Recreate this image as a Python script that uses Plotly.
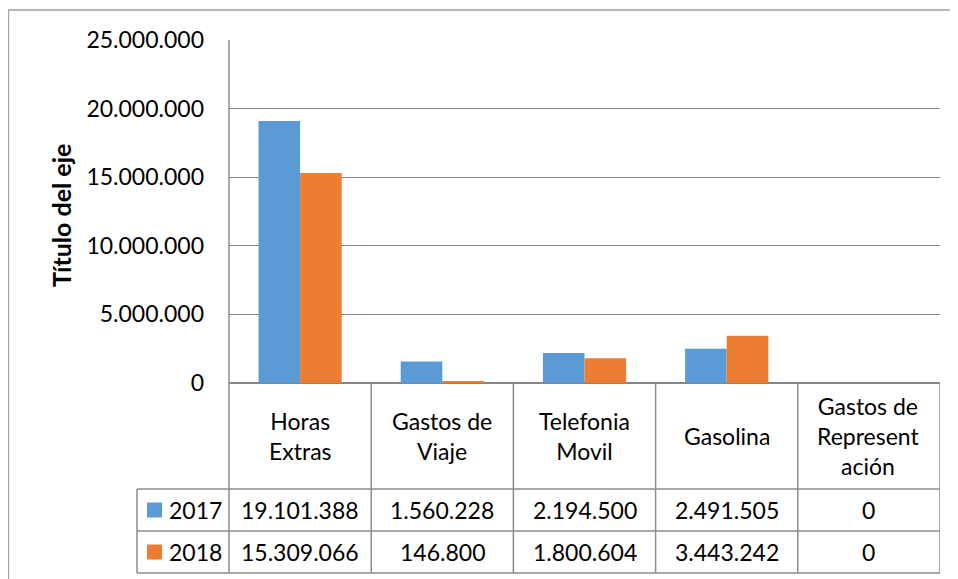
import plotly.graph_objects as go

# ---- data ----
categories = ["Horas Extras", "Gastos de Viaje", "Telefonia Movil", "Gasolina", "Gastos de Representación"]
category_labels = ["Horas<br>Extras", "Gastos de<br>Viaje", "Telefonia<br>Movil", "Gasolina", "Gastos de<br>Represent<br>ación"]
series_names = ["2017", "2018"]
values_2017 = [19101388, 1560228, 2194500, 2491505, 0]
values_2018 = [15309066, 146800, 1800604, 3443242, 0]
y_ticks = [0, 5000000, 10000000, 15000000, 20000000, 25000000]

colors = ["#5B9BD5", "#ED7D31"]
OFF = 8  # page body margin
W, H = 958 - OFF, 579 - OFF
# layout in page pixels
PL, PR, PT, PB = 229, 940, 40, 383
ROW_CAT_BOTTOM = 489
ROW1_BOTTOM = 531
ROW2_BOTTOM = 573
LEG_LEFT = 137
FONT = "Lato, 'Open Sans', sans-serif"
FS = 23
LINE_C = "#8c8c8c"


def fx(px):
    return (px - PL) / (PR - PL)


def fy(py):
    return (PB - py) / (PB - PT)


def fmt(v):
    return f"{v:,}".replace(",", ".")


fig = go.Figure()
for name, vals, col in zip(series_names, [values_2017, values_2018], colors):
    fig.add_trace(go.Bar(x=categories, y=vals, name=name, marker=dict(color=col, line=dict(width=0))))

shapes = []
# outer chart border
shapes.append(dict(type="line", xref="paper", yref="paper", x0=fx(8.5), x1=fx(8.5), y0=fy(600), y1=fy(10),
                   line=dict(color="#a0a0a0", width=1.3)))
shapes.append(dict(type="line", xref="paper", yref="paper", x0=fx(8.5), x1=fx(980), y0=fy(10), y1=fy(10),
                   line=dict(color="#a0a0a0", width=1.3)))
# plot left border (extends through table)
shapes.append(dict(type="line", xref="paper", yref="paper", x0=0, x1=0, y0=fy(PT), y1=fy(ROW2_BOTTOM),
                   line=dict(color=LINE_C, width=1.5)))
# table column separators
n = len(categories)
for i in range(1, n + 1):
    shapes.append(dict(type="line", xref="x", yref="paper", x0=i - 0.5, x1=i - 0.5, y0=fy(PB), y1=fy(ROW2_BOTTOM),
                       line=dict(color=LINE_C, width=1.5)))
# table row lines
for py in [ROW_CAT_BOTTOM, ROW1_BOTTOM, ROW2_BOTTOM]:
    shapes.append(dict(type="line", xref="paper", yref="paper", x0=fx(LEG_LEFT), x1=1, y0=fy(py), y1=fy(py),
                       line=dict(color=LINE_C, width=1.5)))
shapes.append(dict(type="line", xref="paper", yref="paper", x0=fx(LEG_LEFT), x1=fx(LEG_LEFT),
                   y0=fy(ROW_CAT_BOTTOM), y1=fy(ROW2_BOTTOM), line=dict(color=LINE_C, width=1.5)))

annotations = []
# category labels
for i, lab in enumerate(category_labels):
    annotations.append(dict(x=i, y=fy((PB + ROW_CAT_BOTTOM) / 2), xref="x", yref="paper", text=lab,
                            showarrow=False, font=dict(family=FONT, size=FS, color="#000"),
                            xanchor="center", yanchor="middle"))
# data rows
rows = [(ROW_CAT_BOTTOM, ROW1_BOTTOM), (ROW1_BOTTOM, ROW2_BOTTOM)]
for (top, bot), name, vals, col in zip(rows, series_names, [values_2017, values_2018], colors):
    cy = (top + bot) / 2
    for i, v in enumerate(vals):
        annotations.append(dict(x=i, y=fy(cy), xref="x", yref="paper", text=fmt(v), showarrow=False,
                                font=dict(family=FONT, size=FS, color="#000"), xanchor="center", yanchor="middle"))
    shapes.append(dict(type="rect", xref="paper", yref="paper", x0=fx(147), x1=fx(162), y0=fy(cy - 7.5),
                       y1=fy(cy + 7.5), fillcolor=col, line=dict(width=0)))
    annotations.append(dict(x=fx(167), y=fy(cy), xref="paper", yref="paper", text=name, showarrow=False,
                            font=dict(family=FONT, size=FS, color="#000"), xanchor="left", yanchor="middle"))
# axis title
annotations.append(dict(x=fx(61), y=fy(216), xref="paper", yref="paper", text="<b>Título del eje</b>",
                        showarrow=False, textangle=-90, font=dict(family=FONT, size=25, color="#000"),
                        xanchor="center", yanchor="middle"))

fig.update_layout(
    width=W, height=H,
    margin=dict(l=PL - OFF, r=(958 - PR), t=PT - OFF, b=(579 - PB), pad=0),
    paper_bgcolor="white", plot_bgcolor="white",
    separators=",.",
    barmode="group", bargap=0.415, bargroupgap=0,
    showlegend=False,
    shapes=shapes, annotations=annotations,
    font=dict(family=FONT, size=FS, color="#000"),
)
fig.update_xaxes(type="category", range=[-0.5, n - 0.5], showticklabels=False, showgrid=False,
                 showline=False, zeroline=False, ticks="")
fig.update_yaxes(range=[0, 25000000], tickvals=y_ticks, ticktext=[fmt(t) for t in y_ticks],
                 showgrid=True, gridcolor="#868686", gridwidth=1.3, zeroline=True, zerolinecolor="#868686",
                 zerolinewidth=1.5, showline=False, ticks="", ticklabelstandoff=24,
                 tickfont=dict(family=FONT, size=FS, color="#000"))

fig.write_html("out.html")
